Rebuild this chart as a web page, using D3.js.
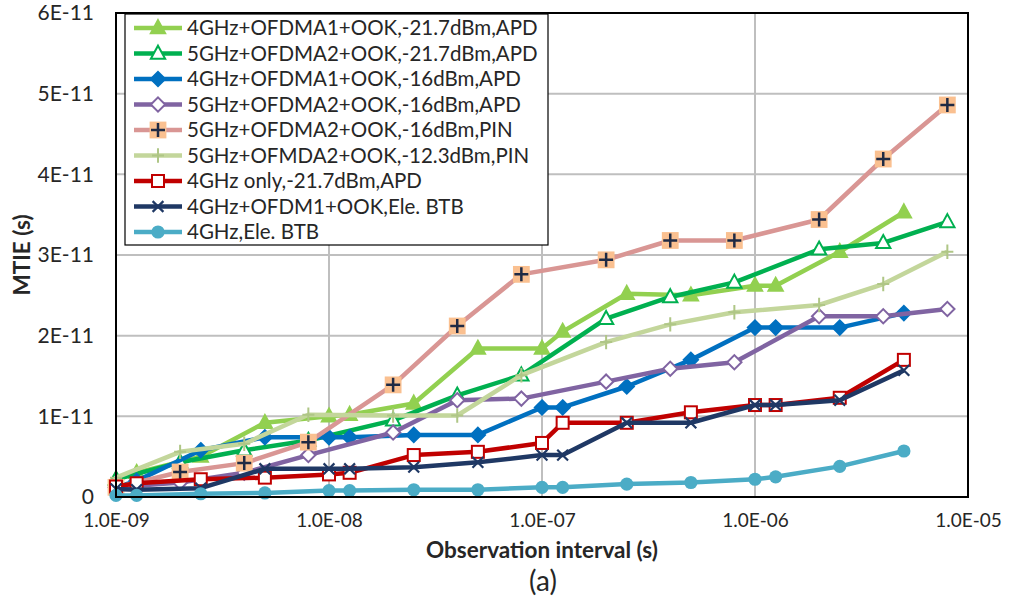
<!DOCTYPE html>
<html><head><meta charset="utf-8">
<script src="https://cdn.jsdelivr.net/npm/d3@7"></script>
<style>
html,body{margin:0;padding:0;background:#fff;}
svg text{font-family:Lato,"Open Sans",sans-serif;fill:#262626;}
</style></head>
<body>
<svg id="chart" width="1012" height="602"></svg>
<script>
// ---- data (MTIE in units of 1e-11 s) ----
const tauA = [1e-9,1.25e-9,2.5e-9,5e-9,1e-8,1.25e-8,2.5e-8,5e-8,1e-7,1.25e-7,2.5e-7,5e-7,1e-6,1.25e-6,2.5e-6,5e-6];
const tauB = [1e-9,2e-9,4e-9,8e-9,2e-8,4e-8,8e-8,2e-7,4e-7,8e-7,2e-6,4e-6,8e-6];

const seriesNames = [
  "4GHz+OFDMA1+OOK,-21.7dBm,APD",
  "5GHz+OFDMA2+OOK,-21.7dBm,APD",
  "4GHz+OFDMA1+OOK,-16dBm,APD",
  "5GHz+OFDMA2+OOK,-16dBm,APD",
  "5GHz+OFDMA2+OOK,-16dBm,PIN",
  "5GHz+OFMDA2+OOK,-12.3dBm,PIN",
  "4GHz only,-21.7dBm,APD",
  "4GHz+OFDM1+OOK,Ele. BTB",
  "4GHz,Ele. BTB"
];
const s1 = [0.22,0.30,0.50,0.92,1.00,1.02,1.16,1.84,1.84,2.05,2.52,2.50,2.62,2.62,3.04,3.53];
const s2 = [0.22,0.43,0.58,0.70,0.95,1.26,1.51,2.21,2.48,2.66,3.07,3.15,3.41];
const s3 = [0.12,0.20,0.58,0.74,0.74,0.74,0.77,0.77,1.11,1.11,1.37,1.70,2.10,2.10,2.10,2.28];
const s4 = [0.12,0.18,0.30,0.52,0.80,1.20,1.22,1.43,1.59,1.67,2.24,2.24,2.33];
const s5 = [0.12,0.31,0.42,0.68,1.39,2.12,2.76,2.94,3.18,3.18,3.44,4.19,4.86];
const s6 = [0.24,0.56,0.66,1.02,1.01,1.01,1.51,1.92,2.14,2.29,2.38,2.64,3.04];
const s7 = [0.13,0.17,0.22,0.24,0.28,0.30,0.52,0.56,0.67,0.92,0.92,1.05,1.14,1.14,1.23,1.70];
const s8 = [0.10,0.09,0.11,0.35,0.35,0.35,0.37,0.43,0.52,0.52,0.92,0.92,1.14,1.14,1.20,1.57];
const s9 = [0.02,0.02,0.04,0.05,0.08,0.08,0.09,0.09,0.12,0.12,0.16,0.18,0.22,0.25,0.38,0.57];

const xTicks = [1e-9,1e-8,1e-7,1e-6,1e-5];
const xTickLabels = ["1.0E-09","1.0E-08","1.0E-07","1.0E-06","1.0E-05"];
const yTicks = [0,1,2,3,4,5,6];
const yTickLabels = ["0","1E-11","2E-11","3E-11","4E-11","5E-11","6E-11"];

// ---- styles ----
const styles = [
  {color:"#92D050", marker:"triUp", fill:"#92D050", size:13},
  {color:"#00B050", marker:"triUp", fill:"#ffffff", size:13},
  {color:"#0070C0", marker:"diamond", fill:"#0070C0", size:13},
  {color:"#8064A2", marker:"diamond", fill:"#ffffff", size:13},
  {color:"#D99694", marker:"plusSq", fill:"#FAC090", size:14},
  {color:"#C3D69B", marker:"plus", fill:"none", size:12},
  {color:"#C00000", marker:"square", fill:"#ffffff", size:12},
  {color:"#1F3864", marker:"x", fill:"none", size:12},
  {color:"#4BACC6", marker:"circle", fill:"#4BACC6", size:12}
];
const seriesVals = [s1,s2,s3,s4,s5,s6,s7,s8,s9];
const seriesTau = [tauA,tauB,tauA,tauB,tauB,tauB,tauA,tauA,tauA];

const L=116, R=968, T=13, B=497;
const svg = d3.select("#chart");
const x = d3.scaleLog().domain([1e-9,1e-5]).range([L,R]);
const y = d3.scaleLinear().domain([0,6]).range([B,T]);

// gridlines
const g = svg.append("g");
g.selectAll("line.vg").data(xTicks.slice(1,-1)).join("line")
  .attr("x1",d=>x(d)).attr("x2",d=>x(d)).attr("y1",T).attr("y2",B)
  .attr("stroke","#BFBFBF").attr("stroke-width",2);
g.selectAll("line.hg").data(yTicks.slice(1,-1)).join("line")
  .attr("y1",d=>y(d)).attr("y2",d=>y(d)).attr("x1",L).attr("x2",R)
  .attr("stroke","#BFBFBF").attr("stroke-width",2);

// axes (labels only)
const xAxis = d3.axisBottom(x).tickValues(xTicks).tickFormat((d,i)=>xTickLabels[i]).tickSize(0).tickPadding(17);
const xa = svg.append("g").attr("transform",`translate(0,${B})`).call(xAxis);
xa.select(".domain").remove();
xa.selectAll("text").style("font-size","19px").attr("fill","#262626").style("font-family","Lato");
const yAxis = d3.axisLeft(y).tickValues(yTicks).tickFormat((d,i)=>yTickLabels[i]).tickSize(0).tickPadding(22);
const ya = svg.append("g").attr("transform",`translate(${L},0)`).call(yAxis);
ya.select(".domain").remove();
ya.selectAll("text").style("font-size","21px").attr("fill","#262626").style("font-family","Lato");

// marker drawing
function drawMarker(sel, st){
  const s = st.size;
  if(st.marker==="triUp"){
    sel.append("path").attr("d",`M0,${-s*0.6}L${s*0.55},${s*0.4}L${-s*0.55},${s*0.4}Z`)
      .attr("fill",st.fill).attr("stroke",st.color).attr("stroke-width",2);
  } else if(st.marker==="diamond"){
    sel.append("path").attr("d",`M0,${-s*0.55}L${s*0.55},0L0,${s*0.55}L${-s*0.55},0Z`)
      .attr("fill",st.fill).attr("stroke",st.color).attr("stroke-width",2);
  } else if(st.marker==="square"){
    sel.append("rect").attr("x",-s*0.5).attr("y",-s*0.5).attr("width",s).attr("height",s)
      .attr("fill",st.fill).attr("stroke",st.color).attr("stroke-width",2);
  } else if(st.marker==="plusSq"){
    sel.append("rect").attr("x",-s*0.6).attr("y",-s*0.6).attr("width",s*1.2).attr("height",s*1.2)
      .attr("fill",st.fill).attr("stroke","none");
    sel.append("path").attr("d",`M${-s*0.5},0H${s*0.5}M0,${-s*0.5}V${s*0.5}`)
      .attr("stroke","#1F2A44").attr("stroke-width",2.5);
  } else if(st.marker==="plus"){
    sel.append("path").attr("d",`M${-s*0.5},0H${s*0.5}M0,${-s*0.6}V${s*0.6}`)
      .attr("stroke","#AFC686").attr("stroke-width",2);
  } else if(st.marker==="x"){
    sel.append("path").attr("d",`M${-s*0.45},${-s*0.45}L${s*0.45},${s*0.45}M${-s*0.45},${s*0.45}L${s*0.45},${-s*0.45}`)
      .attr("stroke",st.color).attr("stroke-width",2.2);
  } else if(st.marker==="circle"){
    sel.append("circle").attr("r",s*0.55).attr("fill",st.fill);
  }
}

// series
const line = d3.line().x(d=>x(d[0])).y(d=>y(d[1]));
seriesVals.forEach((vals,i)=>{
  const st = styles[i];
  const pts = vals.map((v,j)=>[seriesTau[i][j], v]);
  const sg = svg.append("g");
  sg.append("path").datum(pts).attr("d",line).attr("fill","none")
    .attr("stroke",st.color).attr("stroke-width",4.5).attr("stroke-linejoin","round");
  pts.forEach(p=>{
    const m = sg.append("g").attr("transform",`translate(${x(p[0])},${y(p[1])})`);
    drawMarker(m, st);
  });
});

// frame
svg.append("rect").attr("x",L).attr("y",T).attr("width",R-L).attr("height",B-T)
  .attr("fill","none").attr("stroke","#000").attr("stroke-width",2);

// legend
const lg = svg.append("g");
lg.append("rect").attr("x",125).attr("y",14).attr("width",423).attr("height",231)
  .attr("fill","#fff").attr("stroke","#000").attr("stroke-width",1.2);
seriesNames.forEach((name,i)=>{
  const cy = 28 + i*25.5;
  const st = styles[i];
  lg.append("line").attr("x1",134).attr("x2",182).attr("y1",cy).attr("y2",cy)
    .attr("stroke",st.color).attr("stroke-width",4.5);
  const m = lg.append("g").attr("transform",`translate(158,${cy})`);
  drawMarker(m, st);
  lg.append("text").attr("x",187).attr("y",cy).attr("dy","0.36em")
    .style("font-size","20.5px").text(name);
});

// titles
svg.append("text").attr("x",542).attr("y",558).attr("text-anchor","middle")
  .style("font-size","22.5px").style("font-weight","bold").text("Observation interval (s)");
svg.append("text").attr("transform","translate(30,255) rotate(-90)").attr("text-anchor","middle")
  .style("font-size","22.5px").style("font-weight","bold").text("MTIE (s)");
svg.append("text").attr("x",543).attr("y",591).attr("text-anchor","middle")
  .style("font-size","28px").text("(a)");
</script>
</body></html>
